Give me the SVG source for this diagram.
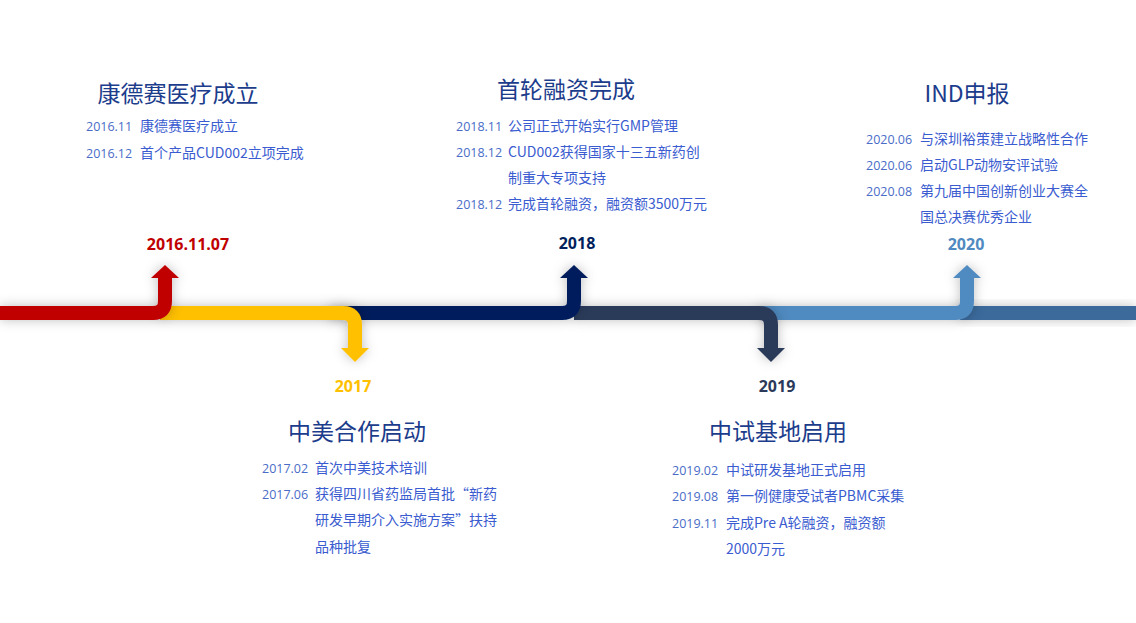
<svg xmlns="http://www.w3.org/2000/svg" width="1136" height="623" viewBox="0 0 1136 623">
<defs>
<filter id="glow" x="-20%" y="-50%" width="140%" height="200%"><feDropShadow dx="0" dy="0" stdDeviation="6" flood-color="#000" flood-opacity="0.25"/></filter>
<style>
.seg{fill:none;stroke-width:14}
.t{font-family:"Noto Sans CJK SC",sans-serif;font-size:23px;fill:#1c3c8c;text-anchor:middle}
.d{font-family:"Open Sans","Noto Sans CJK SC",sans-serif;font-size:12.5px;fill:#4a6cc8}
.i{font-family:"Noto Sans CJK SC",sans-serif;font-size:14px;fill:#3a5cd0}
.y{font-family:"Open Sans",sans-serif;font-size:16px;font-weight:bold;text-anchor:middle}
</style>
</defs>
<rect width="1136" height="623" fill="#fff"/>
<g id="connectors">
<g filter="url(#glow)"><rect x="960" y="306" width="176" height="14" fill="#3a6b9b"/></g>
<g filter="url(#glow)"><path class="seg" stroke="#508ac0" d="M760,313 H955 Q967,313 967,301 V278"/><polygon fill="#508ac0" points="953,278 981,278 967,265"/></g>
<g filter="url(#glow)"><path class="seg" stroke="#2b3a5a" d="M574,313 H759 Q771,313 771,325 V348"/><polygon fill="#2b3a5a" points="757,348 785,348 771,362"/></g>
<g filter="url(#glow)"><path class="seg" stroke="#001f5c" d="M330,313 H562 Q574,313 574,301 V278"/><polygon fill="#001f5c" points="560,278 588,278 574,265"/></g>
<g filter="url(#glow)"><path class="seg" stroke="#ffc000" d="M160,313 H343 Q355,313 355,325 V348"/><polygon fill="#ffc000" points="341,348 369,348 355,362"/></g>
<g filter="url(#glow)"><path class="seg" stroke="#c00000" d="M0,313 H153 Q165,313 165,301 V278"/><polygon fill="#c00000" points="151,278 179,278 165,265"/></g>
</g>
<g id="n2016">
<text class="y" x="188" y="250" fill="#c00000">2016.11.07</text>
<text class="t" x="178" y="102">康德赛医疗成立</text>
<text class="d" x="86" y="131">2016.11</text><text class="i" x="140" y="131">康德赛医疗成立</text>
<text class="d" x="86" y="158">2016.12</text><text class="i" x="140" y="158">首个产品CUD002立项完成</text>
</g>
<g id="n2018">
<text class="y" x="577" y="249" fill="#001f5c">2018</text>
<text class="t" x="566" y="98">首轮融资完成</text>
<text class="d" x="456" y="131">2018.11</text><text class="i" x="508" y="131">公司正式开始实行GMP管理</text>
<text class="d" x="456" y="157">2018.12</text><text class="i" x="508" y="157">CUD002获得国家十三五新药创</text>
<text class="i" x="508" y="183">制重大专项支持</text>
<text class="d" x="456" y="209">2018.12</text><text class="i" x="508" y="209">完成首轮融资，融资额3500万元</text>
</g>
<g id="n2020">
<text class="y" x="966" y="250" fill="#508ac0">2020</text>
<text class="t" x="967" y="102">IND申报</text>
<text class="d" x="866" y="144">2020.06</text><text class="i" x="920" y="144">与深圳裕策建立战略性合作</text>
<text class="d" x="866" y="170">2020.06</text><text class="i" x="920" y="170">启动GLP动物安评试验</text>
<text class="d" x="866" y="196">2020.08</text><text class="i" x="920" y="196">第九届中国创新创业大赛全</text>
<text class="i" x="920" y="222">国总决赛优秀企业</text>
</g>
<g id="n2017">
<text class="y" x="353" y="392" fill="#ffc000">2017</text>
<text class="t" x="357" y="440">中美合作启动</text>
<text class="d" x="262" y="473">2017.02</text><text class="i" x="315" y="473">首次中美技术培训</text>
<text class="d" x="262" y="499">2017.06</text><text class="i" x="315" y="499">获得四川省药监局首批“新药</text>
<text class="i" x="315" y="525">研发早期介入实施方案”扶持</text>
<text class="i" x="315" y="552">品种批复</text>
</g>
<g id="n2019">
<text class="y" x="777" y="392" fill="#2b3a5a">2019</text>
<text class="t" x="778" y="440">中试基地启用</text>
<text class="d" x="672" y="475">2019.02</text><text class="i" x="726" y="475">中试研发基地正式启用</text>
<text class="d" x="672" y="501">2019.08</text><text class="i" x="726" y="501">第一例健康受试者PBMC采集</text>
<text class="d" x="672" y="528">2019.11</text><text class="i" x="726" y="528">完成Pre A轮融资，融资额</text>
<text class="i" x="726" y="554">2000万元</text>
</g>
</svg>
